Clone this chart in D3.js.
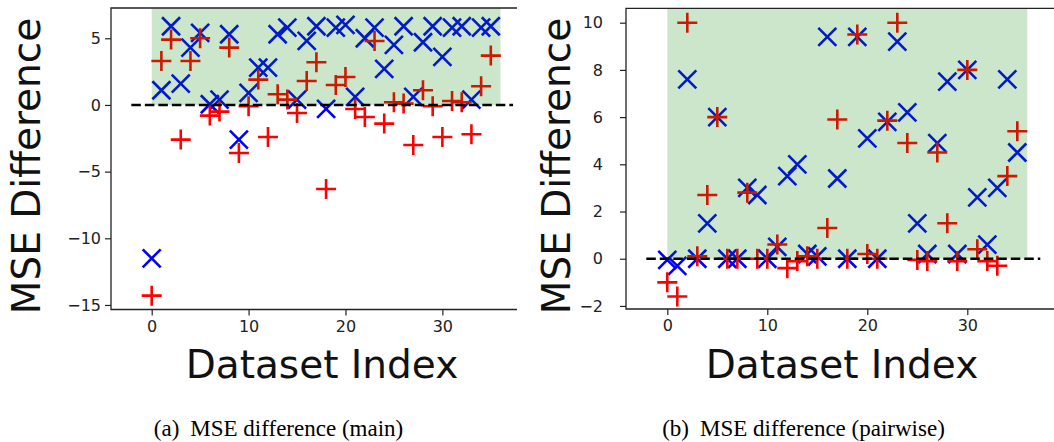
<!DOCTYPE html>
<html><head><meta charset="utf-8">
<script src="https://cdn.jsdelivr.net/npm/d3@7"></script>
<style>body{margin:0;background:#fff}svg{display:block}</style>
</head><body>
<svg id="c" width="1054" height="442"></svg>
<script>
const idx = d3.range(36);
const mainRed = [-14.3,3.3,4.9,-2.6,3.3,5.0,-0.8,-0.5,4.3,-3.6,-0.1,1.9,-2.4,0.8,0.4,-0.6,1.8,3.2,-6.3,1.5,2.1,-0.3,-0.9,4.8,-1.4,0.2,0.1,-3.0,1.1,-0.1,-2.4,0.3,0.2,-2.2,1.4,3.7];
const mainBlue = [-11.5,1.1,5.9,1.6,4.3,5.4,0.05,0.4,5.3,-2.6,0.9,2.8,2.8,5.3,5.8,0.4,4.8,5.9,-0.3,5.8,6.0,0.6,5.0,5.8,2.7,4.5,5.9,0.6,4.7,5.9,3.6,5.8,5.9,0.4,5.8,5.9];
const pairRed = [-1.0,-1.6,10.0,0.1,2.7,6.0,0.0,0.0,2.8,0.0,0.0,0.6,-0.4,-0.1,0.1,0.0,1.3,5.9,0.0,9.5,0.2,0.0,5.85,10.0,4.9,-0.05,-0.1,4.5,1.5,-0.1,8.0,0.4,-0.1,-0.3,3.5,5.4];
const pairBlue = [-0.05,-0.3,7.6,0.0,1.5,6.0,0.0,0.0,3.0,2.7,0.0,0.5,3.5,4.0,0.2,0.1,9.4,3.4,0.0,9.4,5.1,0.0,5.8,9.2,6.2,1.5,0.2,4.9,7.5,0.2,8.0,2.6,0.6,3.0,7.6,4.5];
const xTicks = [0,10,20,30];
const mainYTicks = [-15,-10,-5,0,5];
const pairYTicks = [-2,0,2,4,6,8,10];
const spanX = [0,36];
const refLine = [-2.1,37.3];
const xLabel = "Dataset Index";
const yLabel = "MSE Difference";
const capTags = ["(a)", "(b)"];
const capTexts = ["MSE difference (main)", "MSE difference (pairwise)"];

const svg = d3.select("#c");
svg.append("defs").append("clipPath").attr("id","clipL").append("rect")
  .attr("x",0).attr("y",0).attr("width",517).attr("height",442);

function panel(cfg){
  const g = svg.append("g");
  const x = d3.scaleLinear().domain(cfg.xd).range(cfg.xr);
  const y = d3.scaleLinear().domain(cfg.yd).range(cfg.yr);
  const [x0,x1] = cfg.xr, [y0,y1] = cfg.yr;
  const rx = 9, rp = 10;
  g.append("g").selectAll("path").data(idx).join("path")
    .attr("d", i => { const cx=x(i), cy=y(cfg.blue[i]);
      return `M${cx-rx},${cy-rx}L${cx+rx},${cy+rx}M${cx-rx},${cy+rx}L${cx+rx},${cy-rx}`; })
    .attr("stroke","#0000ff").attr("stroke-width",2.6).attr("fill","none");
  g.append("g").selectAll("path").data(idx).join("path")
    .attr("d", i => { const cx=x(i), cy=y(cfg.red[i]);
      return `M${cx-rp},${cy}H${cx+rp}M${cx},${cy-rp}V${cy+rp}`; })
    .attr("stroke","#ff0000").attr("stroke-width",2.6).attr("fill","none");
  g.append("rect").attr("x",x(spanX[0])).attr("width",x(spanX[1])-x(spanX[0]))
    .attr("y",y1).attr("height",y(0)-y1).attr("fill","green").attr("fill-opacity",0.2);
  g.append("line").attr("x1",x(refLine[0])).attr("x2",x(refLine[1]))
    .attr("y1",y(0)).attr("y2",y(0)).attr("stroke","#000").attr("stroke-width",2.6)
    .attr("stroke-dasharray","9.5,4");
  const ax = g.append("g").attr("transform",`translate(0,${y0})`)
    .call(d3.axisBottom(x).tickValues(xTicks).tickSize(6).tickPadding(5).tickFormat(d3.format("d")));
  const ay = g.append("g").attr("transform",`translate(${x0},0)`)
    .call(d3.axisLeft(y).tickValues(cfg.yt).tickSize(6).tickPadding(cfg.ypad).tickFormat(d => d<0 ? "\u2212"+Math.abs(d) : d));
  [ax,ay].forEach(a => {
    a.select(".domain").remove();
    a.selectAll("line").attr("stroke","#222").attr("stroke-width",1.2);
    a.selectAll("text").attr("font-family","DejaVu Sans").attr("font-size",16).attr("fill","#222");
  });
  g.append("path").attr("d",`M${x1+20},${y1}H${x0}V${y0}H${x1+20}`)
    .attr("fill","none").attr("stroke","#222").attr("stroke-width",1.3);
  g.append("text").attr("x",cfg.xlx).attr("y",378).attr("text-anchor","middle")
    .attr("font-family","DejaVu Sans").attr("font-size",39).attr("fill","#111").text(xLabel);
  g.append("text").attr("transform",`translate(${cfg.ylx},166) rotate(-90)`).attr("text-anchor","middle")
    .attr("font-family","DejaVu Sans").attr("font-size",39).attr("fill","#111").text(yLabel);
  return g;
}

const gl = panel({xd:[-4.2,37.6], xr:[111,516], yd:[-15.34,7.27], yr:[309.5,8], yt:mainYTicks, ypad:4,
  red:mainRed, blue:mainBlue, xlx:322, ylx:40});
gl.attr("clip-path","url(#clipL)");
panel({xd:[-4.13,39.5], xr:[626,1062.3], yd:[-2.13,10.61], yr:[309,8.3], yt:pairYTicks, ypad:17,
  red:pairRed, blue:pairBlue, xlx:842, ylx:570});

// captions, centred under each panel
const capCenter = [273, 798];
capTags.forEach((t,k) => {
  const txt = svg.append("text").attr("y",436)
    .attr("font-family","Liberation Serif").attr("font-size",23).attr("fill","#000");
  txt.append("tspan").text(t);
  txt.append("tspan").attr("dx",11).text(capTexts[k]);
  const w = txt.node().getComputedTextLength();
  txt.attr("x", capCenter[k] - w/2);
});
</script>
</body></html>
